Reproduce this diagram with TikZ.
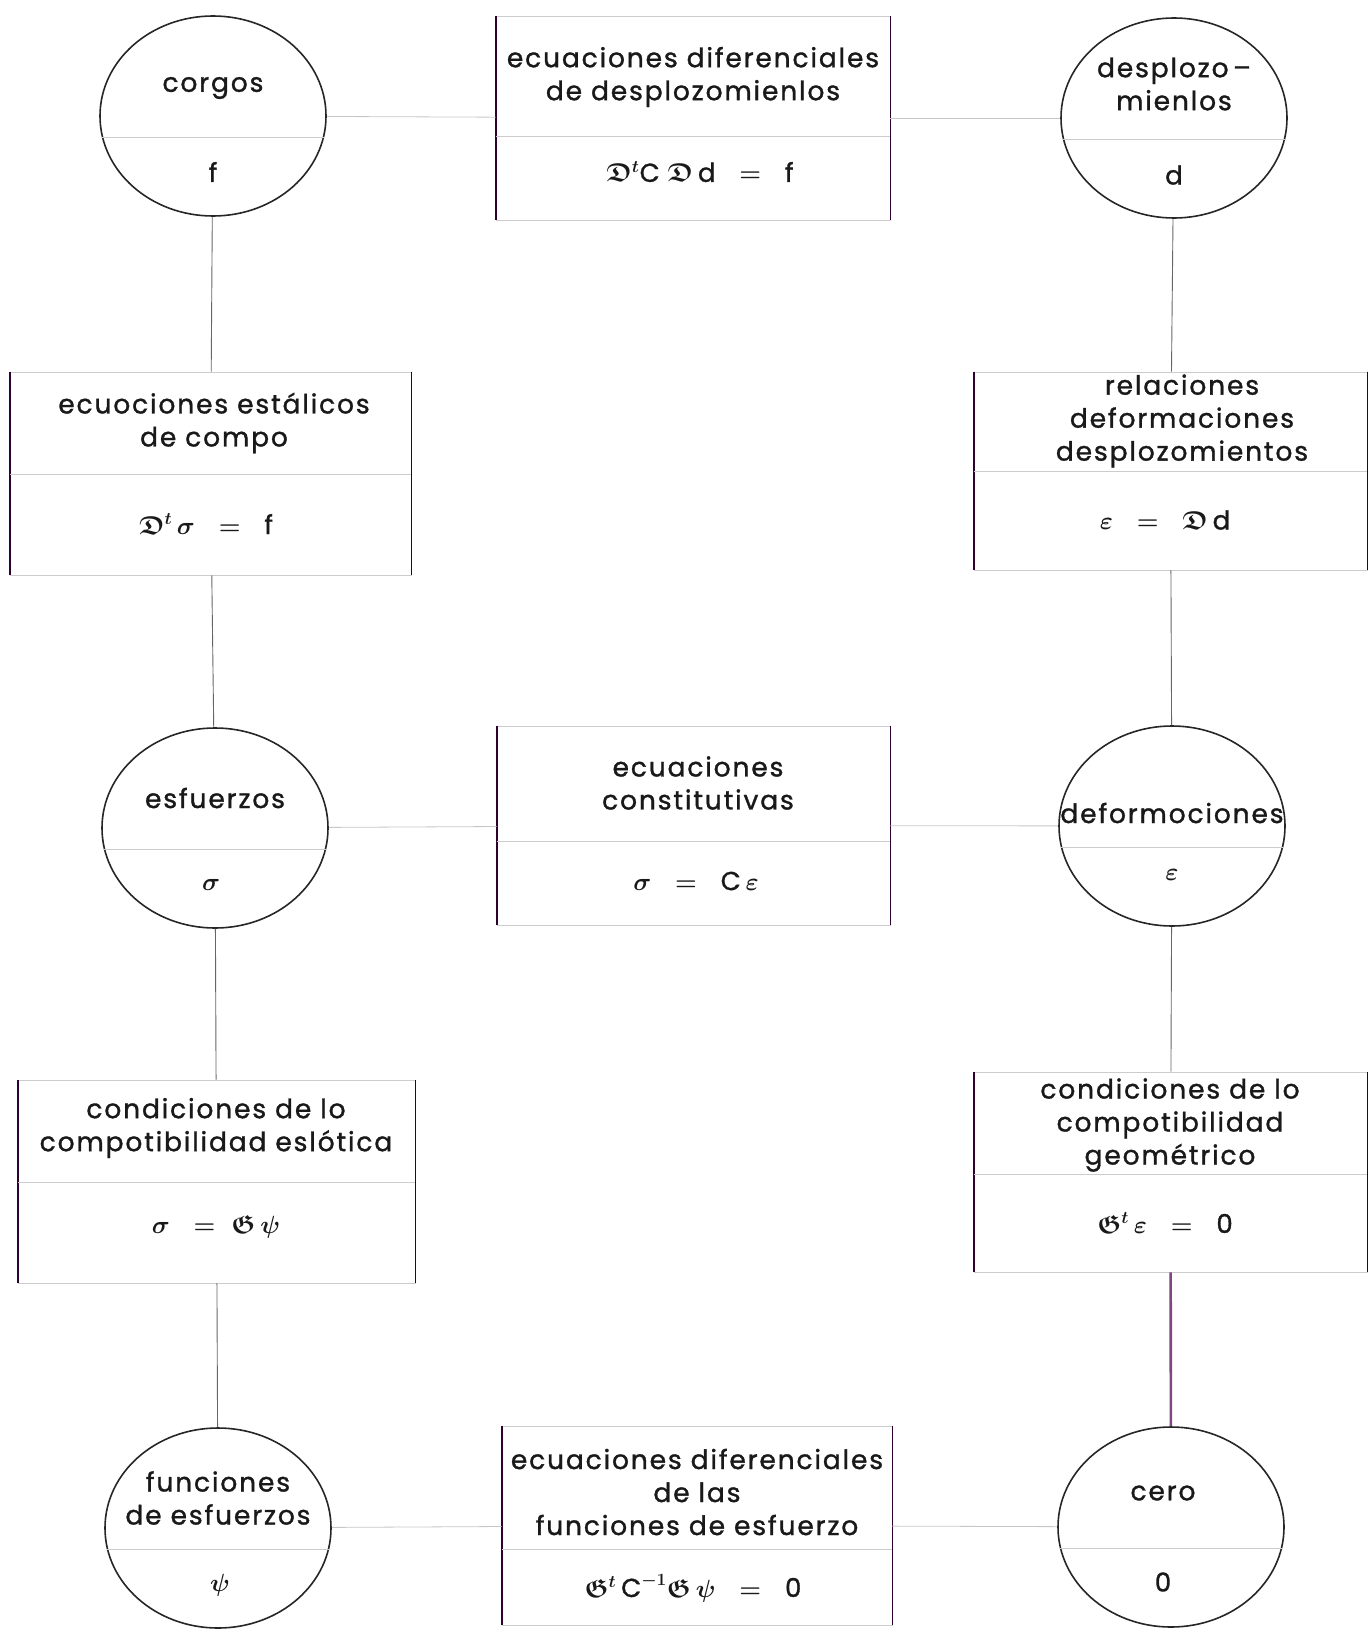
\documentclass[tikz,border=0pt]{standalone}
\usepackage{amsmath,amssymb}
\usepackage{fontspec}
\setmainfont{Poppins}[LetterSpace=7, FakeBold=1.2]
\usetikzlibrary{shapes.geometric}

\tikzset{
  circulo/.style={ellipse, draw=black!85, line width=1.6pt, minimum width=226pt, minimum height=200pt, inner sep=0pt},
  caja/.style={draw=gray!40, line width=0.8pt, inner sep=0pt},
  lado/.style={draw=black!65!violet, line width=1.8pt},
  titulo/.style={align=center, font=\fontsize{26.5}{33}\selectfont, text=black!90},
  formula/.style={font=\fontsize{26}{30}\selectfont\boldmath, text=black!90},
  divisor/.style={draw=gray!40, line width=0.8pt},
  enlace/.style={draw=black!60, line width=0.9pt},
  enlaceh/.style={draw=gray!45, line width=0.8pt},
}

\begin{document}
\begin{tikzpicture}[x=1pt, y=-1pt]
  \useasboundingbox (0,0) rectangle (1369,1632);

  % circulos
  \node (cargas) [circulo] at (213,116) {};
  \node (desplaz) [circulo] at (1174,118) {};
  \node (esfuerzos) [circulo] at (215,828) {};
  \node (deform) [circulo] at (1172,826) {};
  \node (funciones) [circulo] at (218,1528) {};
  \node (cero) [circulo] at (1171,1527) {};

  \foreach \c in {cargas,desplaz,esfuerzos,deform,funciones,cero}
    \draw [divisor] (\c.191) -- (\c.-11);

  % cajas
  \node (ecdesp) [caja, minimum width=394pt, minimum height=204pt] at (693,118) {};
  \node (ecest) [caja, minimum width=401pt, minimum height=203pt] at (210.5,473.5) {};
  \node (reldef) [caja, minimum width=393pt, minimum height=198pt] at (1170.5,471) {};
  \node (ecconst) [caja, minimum width=393pt, minimum height=199pt] at (693.5,825.5) {};
  \node (condest) [caja, minimum width=397pt, minimum height=203pt] at (216.5,1181.5) {};
  \node (condgeo) [caja, minimum width=393pt, minimum height=200pt] at (1170.5,1172) {};
  \node (ecfun) [caja, minimum width=390pt, minimum height=199pt] at (697,1525.5) {};

  \foreach \b in {ecdesp,ecest,reldef,ecconst,condest,condgeo,ecfun} {
    \draw [lado] (\b.north west) -- (\b.south west);
    \draw [lado] (\b.north east) -- (\b.south east);
  }

  \draw [divisor] (ecdesp.west |- 0,136) -- (ecdesp.east |- 0,136);
  \draw [divisor] (ecest.west |- 0,474) -- (ecest.east |- 0,474);
  \draw [divisor] (reldef.west |- 0,471) -- (reldef.east |- 0,471);
  \draw [divisor] (ecconst.west |- 0,841) -- (ecconst.east |- 0,841);
  \draw [divisor] (condest.west |- 0,1182) -- (condest.east |- 0,1182);
  \draw [divisor] (condgeo.west |- 0,1174) -- (condgeo.east |- 0,1174);
  \draw [divisor] (ecfun.west |- 0,1549) -- (ecfun.east |- 0,1549);

  % textos
  \node (tcargas) [titulo] at (213,88) {corgos};
  \node (fcargas) [formula] at (213,172) {f};
  \node (tdesplaz) [titulo] at (1174,84) {desplozo\,--\\mienlos};
  \node (fdesplaz) [formula] at (1174,175) {d};
  \node (tesfuerzos) [titulo] at (215,798) {esfuerzos};
  \node (fesfuerzos) [formula] at (211,885) {$\sigma$};
  \node (tdeform) [titulo] at (1172,813) {deformociones};
  \node (fdeform) [formula] at (1172,875) {$\varepsilon$};
  \node (tfunciones) [titulo] at (218,1498) {funciones\\de esfuerzos};
  \node (ffunciones) [formula] at (220,1585) {$\psi$};
  \node (tcero) [titulo] at (1163,1493) {cero};
  \node (fcero) [formula] at (1163,1582) {0};

  \node (tecdesp) [titulo] at (693,77) {ecuaciones diferenciales\\de desplozomienlos};
  \node (fecdesp) [formula] at (700,172) {$\mathfrak{D}^{t}\text{C}\;\mathfrak{D}\,\text{d}\;\;=\;\;\text{f}$};
  \node (tecest) [titulo] at (214,423) {ecuociones estálicos\\de compo};
  \node (fecest) [formula] at (206,524) {$\mathfrak{D}^{t}\,\sigma\;\;=\;\;\text{f}$};
  \node (treldef) [titulo] at (1182,421) {relaciones\\deformaciones\\desplozomientos};
  \node (freldef) [formula] at (1165,520) {$\varepsilon\;\;=\;\;\mathfrak{D}\,\text{d}$};
  \node (tecconst) [titulo] at (698,783) {ecuaciones\\constitutivas};
  \node (fecconst) [formula] at (696,881) {$\sigma\;\;=\;\;\text{C}\,\varepsilon$};
  \node (tcondest) [titulo] at (216,1128) {condiciones de lo\\compotibilidad eslótica};
  \node (fcondest) [formula] at (216,1227) {$\sigma\;\;=\;\mathfrak{G}\,\psi$};
  \node (tcondgeo) [titulo] at (1170,1125) {condiciones de lo\\compotibilidad\\geométrico};
  \node (fcondgeo) [formula] at (1165,1223) {$\mathfrak{G}^{t}\,\varepsilon\;\;=\;\;\text{0}$};
  \node (tecfun) [titulo] at (697,1492) {ecuaciones diferenciales\\de las\\funciones de esfuerzo};
  \node (fecfun) [formula] at (693,1588) {$\mathfrak{G}^{t}\,\text{C}^{-1}\mathfrak{G}\,\psi\;\;=\;\;\text{0}$};

  % enlaces
  \draw [enlaceh] (cargas) -- (ecdesp);
  \draw [enlaceh] (ecdesp) -- (desplaz);
  \draw [enlaceh] (esfuerzos) -- (ecconst);
  \draw [enlaceh] (ecconst) -- (deform);
  \draw [enlaceh] (funciones) -- (ecfun);
  \draw [enlaceh] (ecfun) -- (cero);

  \draw [enlace] (cargas) -- (ecest);
  \draw [enlace] (ecest) -- (esfuerzos);
  \draw [enlace] (esfuerzos) -- (condest);
  \draw [enlace] (condest) -- (funciones);
  \draw [enlace] (desplaz) -- (reldef);
  \draw [enlace] (reldef) -- (deform);
  \draw [enlace] (deform) -- (condgeo);
  \draw [line width=2.6pt, draw=violet!45!gray] (condgeo) -- (cero);

\end{tikzpicture}
\end{document}
